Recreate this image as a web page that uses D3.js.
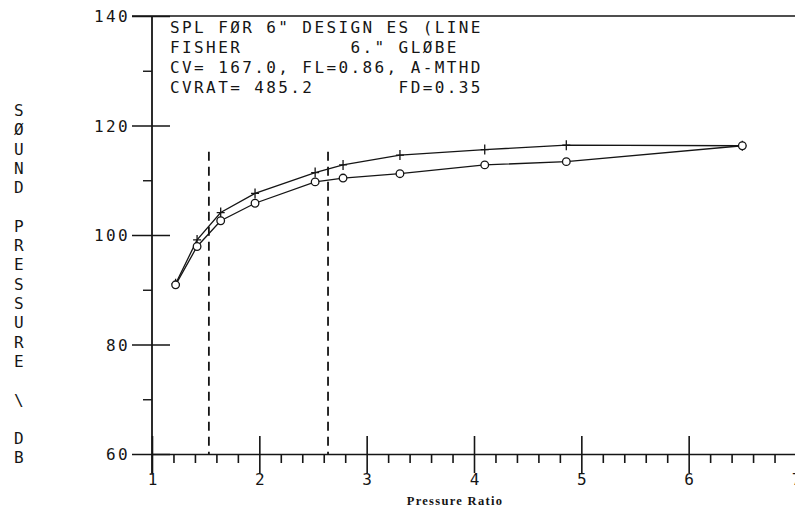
<!DOCTYPE html>
<html>
<head>
<meta charset="utf-8">
<script src="https://cdn.jsdelivr.net/npm/d3@7"></script>
<style>
body{margin:0;background:#fff}
svg{display:block}
.plotter{font-family:"DejaVu Sans Mono",monospace;font-size:16px;letter-spacing:2.4px;fill:#151515}
</style>
</head>
<body>
<div id="spl-div"></div>
<script>
// data
const PRESSURE_RATIO = [1.22, 1.42, 1.64, 1.96, 2.52, 2.78, 3.31, 4.10, 4.86, 6.50]
const SPL_CROSS  = [91.1, 99.1, 104.1, 107.6, 111.4, 112.8, 114.6, 115.6, 116.4, 116.3]
const SPL_CIRCLE = [90.9, 97.9, 102.6, 105.8, 109.7, 110.4, 111.2, 112.8, 113.4, 116.3]
const LIMIT_RATIOS = [1.53, 2.64]
const LIMIT_TOP = 115.2
const X_MAJOR = [1, 2, 3, 4, 5, 6, 7]
const Y_MAJOR = [60, 80, 100, 120, 140]
const Y_MINOR = [70, 90, 110, 130]
const HEADER_LINES = [
    'SPL FØR 6" DESIGN ES (LINE',
    'FISHER         6." GLØBE',
    'CV= 167.0, FL=0.86, A-MTHD',
    'CVRAT= 485.2       FD=0.35'
]
const Y_LABEL = "SØUND PRESSURE \\ DB"
const X_LABEL = "Pressure Ratio"

//**********************************************************************************************
//                                      CONSTANTS
//**********************************************************************************************
const WIDTH = 795
const HEIGHT = 510
const X_LEFT = 152
const X_RIGHT = 796
const Y_TOP = 16
const Y_BOTTOM = 454
const INK = "#151515"

const svg = d3.select("#spl-div").append("svg")
    .attr("width", WIDTH)
    .attr("height", HEIGHT)

const x = d3.scaleLinear().domain([1, 7]).range([X_LEFT, X_RIGHT])
const y = d3.scaleLinear().domain([60, 140]).range([Y_BOTTOM, Y_TOP])

// top frame line at 140
svg.append("line")
    .attr("x1", X_LEFT - 20).attr("x2", WIDTH)
    .attr("y1", y(140)).attr("y2", y(140))
    .attr("stroke", INK).attr("stroke-width", 1.5)

//minor x ticks (below only)
const xMinor = d3.range(1, 7.01, 0.2).filter(v => Math.abs(v - Math.round(v)) > 0.01)
svg.append("g")
    .attr("transform", `translate(0,${Y_BOTTOM})`)
    .call(d3.axisBottom(x).tickValues(xMinor).tickSize(9).tickSizeOuter(0).tickFormat(""))
    .call(g => g.select(".domain").attr("stroke", INK).attr("stroke-width", 1.5))
    .call(g => g.selectAll(".tick line").attr("stroke", INK).attr("stroke-width", 1.6))

//major x ticks cross the axis
svg.append("g")
    .attr("transform", `translate(0,${Y_BOTTOM})`)
    .call(d3.axisBottom(x).tickValues(X_MAJOR).tickSize(19).tickSizeOuter(0).tickFormat(d3.format("d")))
    .call(g => g.select(".domain").remove())
    .call(g => g.selectAll(".tick line").attr("y1", -18).attr("stroke", INK).attr("stroke-width", 1.6))
    .call(g => g.selectAll(".tick text")
        .attr("class", "plotter")
        .attr("y", 31)
        .attr("dy", null)
        .attr("dx", 1.2)
        .attr("fill", INK))

//y axis
svg.append("g")
    .attr("transform", `translate(${X_LEFT},0)`)
    .call(d3.axisLeft(y).tickValues(Y_MINOR).tickSize(9).tickSizeOuter(0).tickFormat(""))
    .call(g => g.select(".domain").remove())
    .call(g => g.selectAll(".tick line").attr("stroke", INK).attr("stroke-width", 1.4))

svg.append("g")
    .attr("transform", `translate(${X_LEFT},0)`)
    .call(d3.axisLeft(y).tickValues(Y_MAJOR).tickSize(20).tickSizeOuter(0))
    .call(g => g.select(".domain").remove())
    .call(g => g.selectAll(".tick line").attr("x2", -20).attr("x1", 18).attr("stroke", INK).attr("stroke-width", 1.4))
    .call(g => g.selectAll(".tick text")
        .attr("class", "plotter")
        .attr("x", -22)
        .attr("dy", "0.36em")
        .attr("fill", INK))

svg.append("line")
    .attr("x1", X_LEFT).attr("x2", X_LEFT)
    .attr("y1", y(140)).attr("y2", Y_BOTTOM + 19)
    .attr("stroke", INK).attr("stroke-width", 1.8)

// dashed limit lines
svg.selectAll(".limit")
    .data(LIMIT_RATIOS)
    .enter().append("line")
    .attr("class", "limit")
    .attr("x1", d => x(d)).attr("x2", d => x(d))
    .attr("y1", y(LIMIT_TOP)).attr("y2", y(60))
    .attr("stroke", INK).attr("stroke-width", 1.8)
    .attr("stroke-dasharray", "9,6")

// the two curves
const crossData = PRESSURE_RATIO.map((p, i) => ({p: p, v: SPL_CROSS[i]}))
const circleData = PRESSURE_RATIO.map((p, i) => ({p: p, v: SPL_CIRCLE[i]}))
const line = d3.line().x(d => x(d.p)).y(d => y(d.v))

svg.append("path").datum(crossData)
    .attr("d", line).attr("fill", "none").attr("stroke", INK).attr("stroke-width", 1.3)
svg.append("path").datum(circleData)
    .attr("d", line).attr("fill", "none").attr("stroke", INK).attr("stroke-width", 1.3)

svg.selectAll(".cross")
    .data(crossData)
    .enter().append("path")
    .attr("class", "cross")
    .attr("transform", d => `translate(${x(d.p)},${y(d.v)})`)
    .attr("d", "M0,-5V5M-4,0H4")
    .attr("stroke", INK).attr("stroke-width", 1.3)

svg.selectAll(".circ")
    .data(circleData)
    .enter().append("circle")
    .attr("class", "circ")
    .attr("cx", d => x(d.p)).attr("cy", d => y(d.v))
    .attr("r", 3.8)
    .attr("fill", "#fff").attr("stroke", INK).attr("stroke-width", 1.3)

// header block
svg.append("g").selectAll("text")
    .data(HEADER_LINES)
    .enter().append("text")
    .attr("class", "plotter")
    .attr("xml:space", "preserve")
    .style("white-space", "pre")
    .attr("x", 170)
    .attr("y", (d, i) => 33 + i * 20)
    .text(d => d)

// stacked y label
svg.append("g").selectAll("text")
    .data(Y_LABEL.split(""))
    .enter().append("text")
    .attr("class", "plotter")
    .attr("text-anchor", "middle")
    .attr("x", 20)
    .attr("y", (d, i) => 116 + i * 19.3)
    .text(d => d)

svg.append("text")
    .attr("x", 455).attr("y", 505)
    .attr("text-anchor", "middle")
    .style("font-family", '"Liberation Serif", serif')
    .style("font-weight", "bold")
    .style("font-size", "12.5px")
    .style("letter-spacing", "1.3px")
    .attr("fill", INK)
    .text(X_LABEL)
</script>
</body>
</html>
